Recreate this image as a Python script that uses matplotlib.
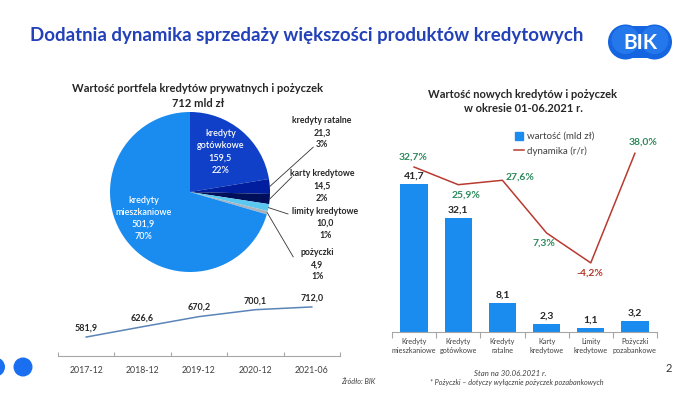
import matplotlib
matplotlib.use("Agg")
import matplotlib.pyplot as plt
import numpy as np
from matplotlib.patches import Circle, Rectangle
from matplotlib.lines import Line2D

plt.rcParams['font.family'] = ['Lato', 'DejaVu Sans']

# ---------------- data ----------------
pie_labels = ["kredyty\nmieszkaniowe", "kredyty\ngotówkowe", "kredyty ratalne",
              "karty kredytowe", "limity kredytowe", "pożyczki"]
pie_values = [501.9, 159.5, 21.3, 14.5, 10.0, 4.9]
pie_pct = ["70%", "22%", "3%", "2%", "1%", "1%"]

years = ["2017-12", "2018-12", "2019-12", "2020-12", "2021-06"]
portfolio = [581.9, 626.6, 670.2, 700.1, 712.0]

bar_cats = ["Kredyty\nmieszkaniowe", "Kredyty\ngotówkowe", "Kredyty\nratalne",
            "Karty\nkredytowe", "Limity\nkredytowe", "Pożyczki\npozabankowe"]
bar_values = [41.7, 32.1, 8.1, 2.3, 1.1, 3.2]
dyn_values = [32.7, 25.9, 27.6, 7.3, -4.2, 38.0]

# ---------------- helpers ----------------
W, H = 700, 393
fig = plt.figure(figsize=(W / 100, H / 100), dpi=100)
fig.patch.set_facecolor("white")


def fx(x):
    return x / W


def fy(y):
    return 1 - y / H


def box(x0, y0, x1, y1):
    return [fx(x0), fy(y1), (x1 - x0) / W, (y1 - y0) / H]


def fmt(v, nd=1):
    return f"{v:.{nd}f}".replace(".", ",")


TITLE_BLUE = "#2341b8"
BLUE = "#1a8cf0"
RED = "#b83a30"
GREEN = "#2e8a5c"
DARK = "#262626"

# ---------------- header ----------------
fig.text(fx(307), fy(35), "Dodatnia dynamika sprzedaży większości produktów kredytowych",
         ha="center", va="center", fontsize=13.4, fontweight="bold", color=TITLE_BLUE)

# BIK logo
lax = fig.add_axes([0, 0, 1, 1], zorder=-1)
lax.set_xlim(0, W)
lax.set_ylim(H, 0)
lax.axis("off")
for cx in (625.5, 654.5):
    lax.add_patch(Circle((cx, 42), 17.5, color="#1565e0", lw=0))
lax.add_patch(Rectangle((625.5, 26), 29, 32, color="#1565e0", lw=0))
for cx in (625.5, 654.5):
    lax.add_patch(Circle((cx, 40), 14, color="#2f86f5", lw=0, alpha=0.6))
lax.text(640, 43, "BIK", ha="center", va="center", color="white",
         fontsize=15, fontweight="bold")
# decorative dots
lax.add_patch(Circle((-4.5, 367), 9.5, color="#1a6ef0", lw=0))
lax.add_patch(Circle((23, 367), 9.5, color="#1a6ef0", lw=0))

# ---------------- pie ----------------
fig.text(fx(198), fy(89), "Wartość portfela kredytów prywatnych i pożyczek",
         ha="center", va="center", fontsize=8, fontweight="bold", color=DARK)
fig.text(fx(198), fy(104), "712 mld zł",
         ha="center", va="center", fontsize=8, fontweight="bold", color=DARK)

pax = fig.add_axes(box(110, 112, 270, 272))
pie_colors = ["#1a8cf0", "#1040c8", "#001e9e", "#000f5a", "#5ac8f0", "#a9b4c0"]
# order in pie: gotówkowe first (clockwise from top), mieszkaniowe last
order = [1, 2, 3, 4, 5, 0]
vals = [pie_values[i] for i in order]
cols = [pie_colors[i] for i in order]
wedges, _ = pax.pie(vals, colors=cols, startangle=90, counterclock=False,
                    radius=1, wedgeprops=dict(linewidth=0))
pax.set_xlim(-1, 1)
pax.set_ylim(-1, 1)
pax.set_aspect("equal")
pax.axis("off")

# inside labels
wmap = {order[k]: wedges[k] for k in range(len(order))}
inside = {0: (-0.58, -0.33), 1: (0.38, 0.5)}
for i, (tx, ty) in inside.items():
    pax.text(tx, ty, f"{pie_labels[i]}\n{fmt(pie_values[i])}\n{pie_pct[i]}",
             ha="center", va="center", color="white", fontsize=6.5,
             fontweight="semibold", linespacing=1.45)

# outside labels with leader lines
outside = {
    2: ((1.65, 0.74), (1.54, 0.56)),
    3: ((1.65, 0.075), (1.275, 0.19)),
    4: ((1.69, -0.39), (1.225, -0.275)),
    5: ((1.59, -0.91), (1.29, -0.81)),
}
for i, ((tx, ty), (ex, ey)) in outside.items():
    w = wmap[i]
    ang = np.deg2rad((w.theta1 + w.theta2) / 2)
    sx, sy = np.cos(ang), np.sin(ang)
    pax.plot([sx, ex], [sy, ey], color="#333333", lw=0.6, clip_on=False)
    pax.text(tx, ty, f"{pie_labels[i]}\n{fmt(pie_values[i])}\n{pie_pct[i]}",
             ha="center", va="center", color=DARK, fontsize=6.3,
             fontweight="bold", linespacing=1.45, clip_on=False)

# ---------------- portfolio line ----------------
lx = fig.add_axes(box(58, 300, 340, 356))
xs = np.arange(len(years))
lx.plot(xs, portfolio, color="#5b84b8", lw=1.1)
for x, v in zip(xs, portfolio):
    lx.annotate(fmt(v), (x, v), xytext=(0, 9), textcoords="offset pixels",
                ha="center", va="center", fontsize=6.5, fontweight="bold",
                color=DARK, annotation_clip=False)
lx.set_xlim(-0.5, len(years) - 0.5)
lx.set_ylim(500, 742)
for s in ("top", "right", "left"):
    lx.spines[s].set_visible(False)
lx.spines["bottom"].set_color("#a6a6a6")
lx.spines["bottom"].set_linewidth(0.8)
lx.set_yticks([])
lx.set_xticks(np.arange(-0.5, len(years), 1.0))
lx.set_xticklabels([])
lx.set_xticks(xs, minor=True)
lx.set_xticklabels(years, minor=True, fontsize=6.3, color="#404040")
lx.tick_params(axis="x", which="major", length=3, color="#a6a6a6", direction="in")
lx.tick_params(axis="x", which="minor", length=0, pad=7)

# ---------------- bar + line chart ----------------
fig.text(fx(523), fy(94), "Wartość nowych kredytów i pożyczek",
         ha="center", va="center", fontsize=8, fontweight="bold", color=DARK)
fig.text(fx(523), fy(108), "w okresie 01-06.2021 r.",
         ha="center", va="center", fontsize=8, fontweight="bold", color=DARK)

bx = fig.add_axes(box(392, 140, 657, 332))
bxs = np.arange(len(bar_cats))
bx.bar(bxs, bar_values, width=0.62, color=BLUE, zorder=2)
for x, v in zip(bxs, bar_values):
    bx.annotate(fmt(v), (x, v), xytext=(0, 8), textcoords="offset pixels",
                ha="center", va="center", fontsize=7.5, fontweight="bold",
                color=DARK)
bx.set_xlim(-0.5, len(bar_cats) - 0.5)
bx.set_ylim(0, 54.2)
for s in ("top", "right", "left"):
    bx.spines[s].set_visible(False)
bx.spines["bottom"].set_color("#a6a6a6")
bx.spines["bottom"].set_linewidth(0.8)
bx.set_yticks([])
bx.set_xticks(np.arange(-0.5, len(bar_cats), 1.0))
bx.set_xticklabels([])
bx.set_xticks(bxs, minor=True)
bx.set_xticklabels(bar_cats, minor=True, fontsize=5.2, color="#404040",
                   linespacing=1.35)
bx.tick_params(axis="x", which="major", length=4, color="#a6a6a6")
bx.tick_params(axis="x", which="minor", length=0, pad=4)

tx2 = bx.twinx()
tx2.plot(bxs, dyn_values, color=RED, lw=1.1, zorder=3)
tx2.set_ylim(-30.8, 43.1)
tx2.axis("off")
dyn_offsets = [(-1, 10), (8, -10), (18, 3), (-3, -10), (-1, -10), (8, 11)]
for x, v, (ox, oy) in zip(bxs, dyn_values, dyn_offsets):
    tx2.annotate(fmt(v) + "%", (x, v), xytext=(ox, oy), textcoords="offset pixels",
                 ha="center", va="center", fontsize=7.5, fontweight="bold",
                 color=GREEN if v >= 0 else RED, annotation_clip=False)

handles = [Line2D([], [], marker="s", ls="none", color=BLUE, markersize=6),
           Line2D([], [], color=RED, lw=1.1)]
leg = fig.legend(handles, ["wartość (mld zł)", "dynamika (r/r)"],
                 loc="upper left", bbox_to_anchor=(fx(514), fy(132)),
                 frameon=False, fontsize=7, handlelength=1.0,
                 handletextpad=0.3, labelspacing=0.55, borderpad=0,
                 borderaxespad=0)
for t in leg.get_texts():
    t.set_color("#404040")

# ---------------- footer ----------------
fig.text(fx(358), fy(381), "Źródło: BIK", ha="center", va="center",
         fontsize=5.2, style="italic", color="#404040")
fig.text(fx(510), fy(374), "Stan na 30.06.2021 r.", ha="center", va="center",
         fontsize=5.6, style="italic", color="#404040")
fig.text(fx(517), fy(383), "* Pożyczki – dotyczy wyłącznie pożyczek pozabankowych",
         ha="center", va="center", fontsize=5.2, style="italic", color="#404040")
fig.text(fx(669), fy(368), "2", ha="center", va="center", fontsize=8, color="#333333")

fig.savefig("out.png", dpi=100, facecolor="white")
